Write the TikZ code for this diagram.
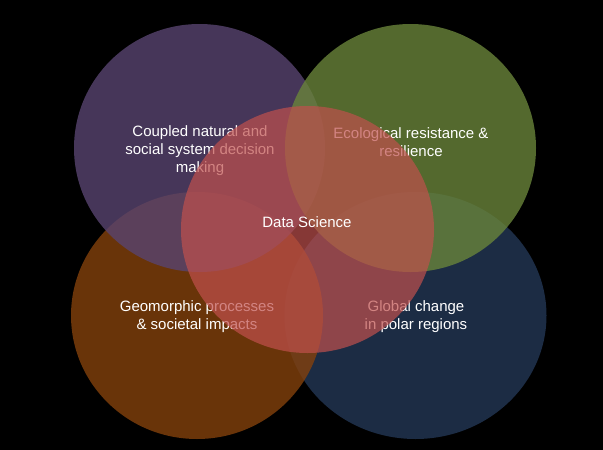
\documentclass[tikz,border=0pt]{standalone}
\usepackage{fontspec}
\setmainfont{Liberation Sans}

\definecolor{cpurple}{RGB}{88,68,112}
\definecolor{cgreen}{RGB}{105,132,58}
\definecolor{corange}{RGB}{132,65,12}
\definecolor{cnavy}{RGB}{35,55,86}
\definecolor{cred}{RGB}{192,80,77}

\tikzset{
	venn/.style={fill=#1, fill opacity=0.8},
	lbl/.style={text=white, align=center, font=\fontsize{15}{18}\selectfont},
}

\begin{document}
\begin{tikzpicture}[x=1pt, y=-1pt]
	\fill[black] (0,0) rectangle (603,450);			% Hintergrund
	\useasboundingbox (0,0) rectangle (603,450);

	\fill[venn=cnavy]   (415.5,315.5) ellipse (131 and 123.5);	% unten rechts
	\fill[venn=corange] (197,315.5) ellipse (126 and 123.5);	% unten links
	\fill[venn=cpurple] (199.5,148) ellipse (125.5 and 124);	% oben links
	\fill[venn=cgreen]  (410.5,148) ellipse (125.5 and 124);	% oben rechts

	\node[lbl] (coupled) at (200,151) {Coupled natural and\\social system decision\\making};
	\node[lbl] (ecol) at (411,142) {Ecological resistance \&\\resilience};
	\node[lbl] (geo) at (197,317) {Geomorphic processes\\\& societal impacts};
	\node[lbl] (polar) at (416,317) {Global change\\in polar regions};

	\fill[cred, fill opacity=0.7] (307.5,229.5) ellipse (126.5 and 123.5);	% Mitte
	\node[lbl] (data) at (307,222) {Data Science};
\end{tikzpicture}
\end{document}
